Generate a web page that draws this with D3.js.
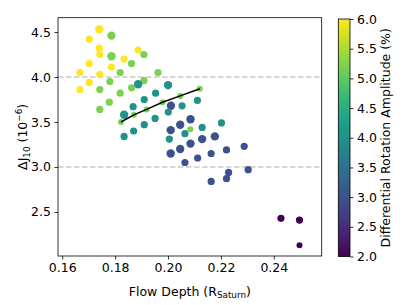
<!DOCTYPE html>
<html>
<head>
<meta charset="utf-8">
<script src="https://cdn.jsdelivr.net/npm/d3@7"></script>
<style>
  body { margin: 0; background: #fff; }
  svg { display: block; font-family: "DejaVu Sans", sans-serif; }
</style>
</head>
<body>
<svg id="chart" width="407" height="305"></svg>
<script>
//------------------------------------------------------------------------------
// Data
//------------------------------------------------------------------------------

var flowDepth = [
  0.1740, 0.1786, 0.1702, 0.1740, 0.1742, 0.1786, 0.1834, 0.1887, 0.1909, 0.1702,
  0.1862, 0.1786, 0.1667, 0.1819, 0.1962, 0.1742, 0.1909, 0.1702, 0.1780, 0.1887,
  0.2000, 0.1667, 0.1742, 0.1862, 0.1953, 0.1819, 0.1910, 0.2046, 0.1778, 0.1868,
  0.1742, 0.2011, 0.2053, 0.2001, 0.1919, 0.1834, 0.1871, 0.1951, 0.2046, 0.1822,
  0.1910, 0.2085, 0.1834, 0.1870, 0.2010, 0.2005, 0.2064, 0.2084, 0.2129, 0.2202,
  0.2085, 0.2129, 0.2177, 0.2010, 0.2046, 0.2112, 0.2163, 0.2221, 0.2288, 0.2064,
  0.2229, 0.2303, 0.2163, 0.2221, 0.2120, 0.1979, 0.2111, 0.2427, 0.2497, 0.2497
];

var deltaJ10 = [
  4.53, 4.46, 4.42, 4.32, 4.25, 4.23, 4.20, 4.30, 4.25, 4.15,
  4.15, 4.11, 4.05, 4.05, 4.05, 4.03, 3.96, 3.94, 3.95, 3.92,
  3.91, 3.86, 3.86, 3.88, 3.82, 3.82, 3.75, 3.79, 3.72, 3.67,
  3.64, 3.68, 3.68, 3.61, 3.64, 3.58, 3.58, 3.54, 3.47, 3.50,
  3.47, 3.53, 3.34, 3.40, 3.41, 3.31, 3.37, 3.42, 3.44, 3.49,
  3.26, 3.31, 3.34, 3.15, 3.20, 3.10, 3.15, 3.19, 3.23, 3.05,
  2.94, 2.97, 2.84, 2.87, 3.87, 3.72, 3.74, 2.43, 2.41, 2.13
];

// differential rotation amplitude (%)
var amplitude = [
  6, 5.2, 6, 6, 6, 5.2, 6, 6, 5.2, 6,
  5.2, 6, 6, 5.2, 5.2, 6, 5.2, 6, 5.2, 4,
  4, 6, 5.2, 5.2, 4, 5.2, 4, 5.2, 5.2, 4,
  5.2, 3, 4, 4, 5.2, 4, 5.2, 4, 3, 5.2,
  4, 3, 4, 4, 3, 4, 4, 5.2, 4, 4,
  3, 3, 3, 3, 3, 3, 3, 3, 3, 3,
  3, 3, 3, 3, 5.2, 5.2, 4, 2, 2, 2
];

// relative weight of each model (drives the marker area)
var weight = [
  3, 3, 2, 2, 2, 3, 2, 2, 2, 2,
  2, 2, 2, 2, 2, 2, 2, 2, 2, 3,
  3, 2, 2, 2, 2, 2, 2, 1, 2, 2,
  2, 3, 2, 2, 1, 3, 1, 2, 3, 1,
  2, 3, 2, 2, 3, 2, 2, 1, 2, 2,
  3, 3, 3, 3, 3, 2, 2, 2, 2, 2,
  2, 2, 2, 2, 1, 1, 2, 2, 2, 1
];

// black track through the low weight models
var trackDepth = [0.1822, 0.1871, 0.1919, 0.1979, 0.2046, 0.2120];
var trackJ10 = [3.50, 3.58, 3.64, 3.72, 3.79, 3.87];

var xTicks = [0.16, 0.18, 0.20, 0.22, 0.24];
var yTicks = [2.5, 3.0, 3.5, 4.0, 4.5];
var gridLevels = [3.0, 4.0];
var colorTicks = [2.0, 2.5, 3.0, 3.5, 4.0, 4.5, 5.0, 5.5, 6.0];

//------------------------------------------------------------------------------
// Layout
//------------------------------------------------------------------------------

var plot = { left: 58, top: 17.7, right: 321.7, bottom: 256 };
var bar = { left: 338.3, right: 350, top: 19, bottom: 256.5 };
var fontSize = 12.5;

var svg = d3.select("#chart");

var x = d3.scaleLinear().domain([0.1584, 0.2581]).range([plot.left, plot.right]);
var y = d3.scaleLinear().domain([2.011, 4.659]).range([plot.bottom, plot.top]);
var color = d3.scaleSequential(d3.interpolateViridis).domain([2, 6]);
var radius = d3.scaleLinear().domain([1, 3]).range([3.0, 4.2]);

//--------------------------------------
// Grid
//--------------------------------------

svg.append("g").selectAll("line")
  .data(gridLevels)
  .enter().append("line")
    .attr("x1", plot.left)
    .attr("x2", plot.right)
    .attr("y1", function(d) { return y(d); })
    .attr("y2", function(d) { return y(d); })
    .attr("stroke", "#b0b0b0")
    .attr("stroke-width", 1)
    .attr("stroke-dasharray", "5.5,2.5");

//--------------------------------------
// Points
//--------------------------------------

var points = flowDepth.map(function(d, i) {
  return { depth: d, j10: deltaJ10[i], amp: amplitude[i], w: weight[i] };
});

svg.append("g").selectAll("circle")
  .data(points)
  .enter().append("circle")
    .attr("cx", function(d) { return x(d.depth); })
    .attr("cy", function(d) { return y(d.j10); })
    .attr("r", function(d) { return radius(d.w); })
    .attr("fill", function(d) { return color(d.amp); });

var track = trackDepth.map(function(d, i) { return [d, trackJ10[i]]; });

svg.append("path")
  .datum(track)
  .attr("fill", "none")
  .attr("stroke", "#000")
  .attr("stroke-width", 1.5)
  .attr("d", d3.line()
    .x(function(d) { return x(d[0]); })
    .y(function(d) { return y(d[1]); }));

//--------------------------------------
// Axes
//--------------------------------------

var xAxis = svg.append("g")
  .attr("transform", "translate(0," + plot.bottom + ")")
  .call(d3.axisBottom(x).tickValues(xTicks).tickFormat(d3.format(".2f"))
    .tickSize(3.5).tickPadding(3.5));

var yAxis = svg.append("g")
  .attr("transform", "translate(" + plot.left + ",0)")
  .call(d3.axisLeft(y).tickValues(yTicks).tickFormat(d3.format(".1f"))
    .tickSize(3.5).tickPadding(3.5));

[xAxis, yAxis].forEach(function(g) {
  g.select(".domain").remove();
  g.selectAll("text")
    .attr("fill", "#000")
    .style("font-size", fontSize + "px")
    .style("font-family", "DejaVu Sans");
  g.selectAll("line").attr("stroke", "#000").attr("stroke-width", 0.8);
});

svg.append("rect")
  .attr("x", plot.left)
  .attr("y", plot.top)
  .attr("width", plot.right - plot.left)
  .attr("height", plot.bottom - plot.top)
  .attr("fill", "none")
  .attr("stroke", "#000")
  .attr("stroke-width", 0.8);

var xLabel = svg.append("text")
  .attr("x", (plot.left + plot.right) / 2)
  .attr("y", 295.5)
  .attr("text-anchor", "middle")
  .style("font-size", fontSize + "px");
xLabel.append("tspan").text("Flow Depth (R");
xLabel.append("tspan").attr("dy", 2.5).style("font-size", "8.8px").text("Saturn");
xLabel.append("tspan").attr("dy", -2.5).text(")");

var yLabel = svg.append("text")
  .attr("transform", "translate(27," + ((plot.top + plot.bottom) / 2) + ") rotate(-90)")
  .attr("text-anchor", "middle")
  .style("font-size", fontSize + "px");
yLabel.append("tspan").text("\u0394J");
yLabel.append("tspan").attr("dy", 2.5).style("font-size", "8.8px").text("10");
yLabel.append("tspan").attr("dy", -2.5).text(" (10");
yLabel.append("tspan").attr("dy", -5).style("font-size", "8.8px").text("\u22126");
yLabel.append("tspan").attr("dy", 5).text(")");

//--------------------------------------
// Colorbar
//--------------------------------------

var gradient = svg.append("defs").append("linearGradient")
  .attr("id", "viridis")
  .attr("x1", "0").attr("y1", "1")
  .attr("x2", "0").attr("y2", "0");

gradient.selectAll("stop")
  .data(d3.range(0, 1.0001, 0.05))
  .enter().append("stop")
    .attr("offset", function(d) { return d; })
    .attr("stop-color", function(d) { return d3.interpolateViridis(d); });

svg.append("rect")
  .attr("x", bar.left)
  .attr("y", bar.top)
  .attr("width", bar.right - bar.left)
  .attr("height", bar.bottom - bar.top)
  .attr("fill", "url(#viridis)")
  .attr("stroke", "#000")
  .attr("stroke-width", 0.8);

var c = d3.scaleLinear().domain([2, 6]).range([bar.bottom, bar.top]);

var cAxis = svg.append("g")
  .attr("transform", "translate(" + bar.right + ",0)")
  .call(d3.axisRight(c).tickValues(colorTicks).tickFormat(d3.format(".1f"))
    .tickSize(3.5).tickPadding(3.5));
cAxis.select(".domain").remove();
cAxis.selectAll("text")
  .attr("fill", "#000")
  .style("font-size", fontSize + "px")
  .style("font-family", "DejaVu Sans");
cAxis.selectAll("line").attr("stroke", "#000").attr("stroke-width", 0.8);

svg.append("text")
  .attr("transform", "translate(389.5," + ((bar.top + bar.bottom) / 2) + ") rotate(-90)")
  .attr("text-anchor", "middle")
  .style("font-size", fontSize + "px")
  .text("Differential Rotation Amplitude (%)");
</script>
</body>
</html>
